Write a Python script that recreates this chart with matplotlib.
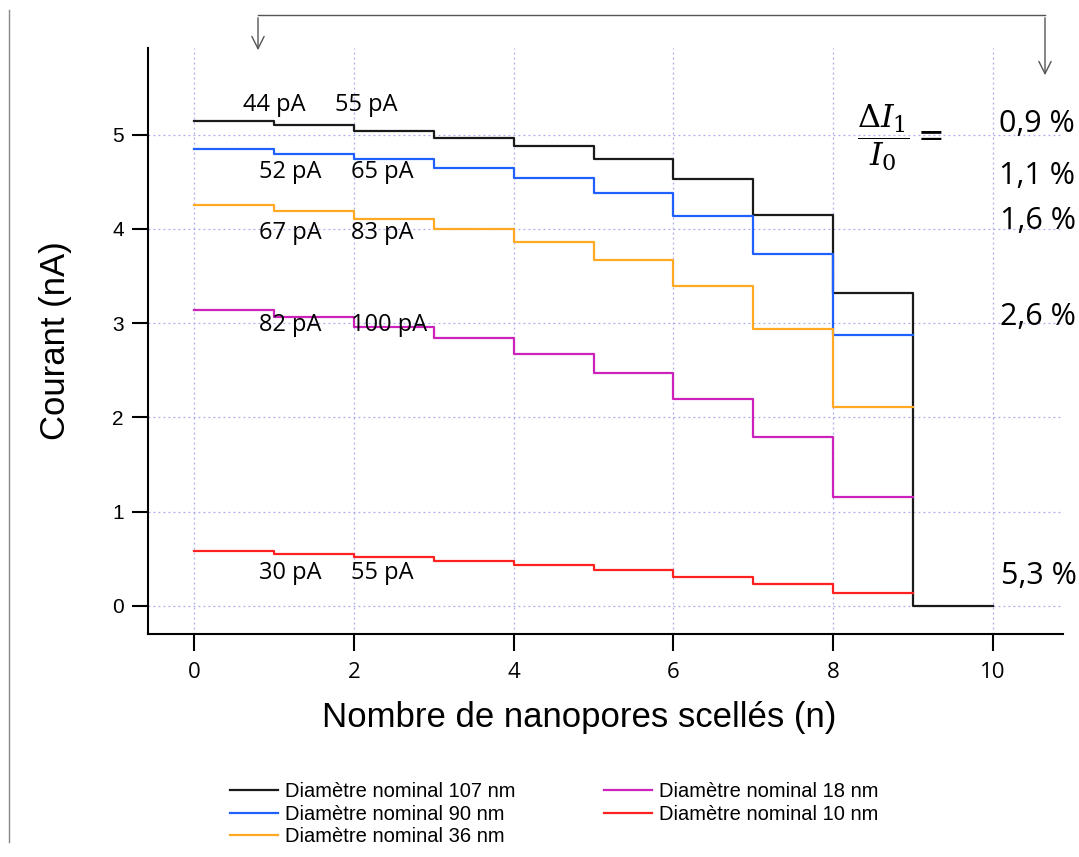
import matplotlib
import matplotlib.pyplot as plt
import numpy as np

matplotlib.use("Agg")

# Courant (nA) sur chaque palier n -> n+1
n_black = np.arange(0, 11)
i_107 = [5.14, 5.10, 5.04, 4.97, 4.88, 4.74, 4.53, 4.15, 3.32, 0.0, 0.0]
n_other = np.arange(0, 10)
i_90 = [4.85, 4.80, 4.74, 4.65, 4.54, 4.38, 4.14, 3.73, 2.87, 2.87]
i_36 = [4.25, 4.19, 4.11, 4.00, 3.86, 3.67, 3.39, 2.94, 2.11, 2.11]
i_18 = [3.14, 3.06, 2.96, 2.84, 2.67, 2.47, 2.19, 1.79, 1.15, 1.15]
i_10 = [0.58, 0.55, 0.515, 0.475, 0.43, 0.375, 0.31, 0.23, 0.13, 0.13]

labels = ["Diamètre nominal 107 nm", "Diamètre nominal 90 nm",
          "Diamètre nominal 36 nm", "Diamètre nominal 18 nm",
          "Diamètre nominal 10 nm"]
colors = ["#1a1a1a", "#2060ff", "#ffaa22", "#cc22bb", "#ff2020"]

# annotations des sauts (pA) et ΔI1/I0
steps_pa = [("44 pA", "55 pA"), ("52 pA", "65 pA"), ("67 pA", "83 pA"),
            ("82 pA", "100 pA"), ("30 pA", "55 pA")]
steps_x = [(1.0, 2.16), (1.2, 2.36), (1.2, 2.36), (1.2, 2.44), (1.2, 2.36)]
steps_y = [5.31, 4.60, 3.96, 2.98, 0.35]
ratios = ["0,9 %", "1,1 %", "1,6 %", "2,6 %", "5,3 %"]
ratios_x = [10.55, 10.55, 10.57, 10.57, 10.58]
ratios_y = [5.11, 4.56, 4.08, 3.06, 0.32]

fig = plt.figure(figsize=(10.79, 8.57), dpi=100)
ax = fig.add_axes([148 / 1079, 1 - 634 / 857, (1063 - 148) / 1079, (634 - 48) / 857])

series = [(n_black, i_107), (n_other, i_90), (n_other, i_36), (n_other, i_18), (n_other, i_10)]
for (x, y), lab, c in zip(series, labels, colors):
    ax.step(x, y, where="post", color=c, lw=1.6, label=lab)

ax.set_xlim(-0.58, 10.88)
ax.set_ylim(-0.30, 5.92)
ax.set_xticks(range(0, 11, 2))
ax.set_yticks(range(0, 6))
ax.grid(True, color="#aaaaee", ls=(0, (1.5, 2.5)), lw=0.9)
ax.set_axisbelow(True)
for s in ["top", "right"]:
    ax.spines[s].set_visible(False)
ax.spines["left"].set_linewidth(1.5)
ax.spines["bottom"].set_linewidth(1.5)
ax.tick_params(axis="y", direction="out", length=11.5, width=1.5, pad=6,
               labelsize=15)
ax.tick_params(axis="x", direction="out", length=12, width=1.5, pad=8,
               labelsize=16)
for t in ax.get_yticklabels():
    t.set_fontfamily("Liberation Sans")
for t in ax.get_xticklabels():
    t.set_fontfamily("Open Sans")

ax.set_ylabel("Courant (nA)", fontsize=25, family="Liberation Sans")
ax.yaxis.set_label_coords((56 - 148) / 915, 0.5)
ax.set_xlabel("Nombre de nanopores scellés (n)", fontsize=25, family="Liberation Sans")
ax.xaxis.set_label_coords((579 - 148) / 915, -(718 - 634) / 586)
ax.xaxis.label.set_va("center")
ax.yaxis.label.set_va("center")

for (a, b), (xa, xb), yy in zip(steps_pa, steps_x, steps_y):
    ax.text(xa, yy, a, ha="center", va="center", fontsize=17, family="Open Sans")
    ax.text(xb, yy, b, ha="center", va="center", fontsize=17, family="Open Sans")

for r, xx, yy in zip(ratios, ratios_x, ratios_y):
    ax.text(xx, yy, r, ha="center", va="center", fontsize=22, family="Open Sans")

ax.text(8.30, 4.97, r"$\dfrac{\Delta I_1}{I_0} =$", fontsize=23, ha="left", va="center",
        math_fontfamily="dejavuserif", clip_on=False)

# flèche de renvoi en haut
arr = dict(arrowstyle="->", color="#555555", lw=1.0, mutation_scale=22)
fig.add_artist(matplotlib.lines.Line2D([258 / 1079, 1045 / 1079], [1 - 15 / 857, 1 - 15 / 857],
                                       color="#555555", lw=1.0))
fig.add_artist(matplotlib.patches.FancyArrowPatch((258 / 1079, 1 - 15 / 857), (258 / 1079, 1 - 53 / 857),
                                                  transform=fig.transFigure, **arr))
fig.add_artist(matplotlib.patches.FancyArrowPatch((1045 / 1079, 1 - 15 / 857), (1045 / 1079, 1 - 78 / 857),
                                                  transform=fig.transFigure, **arr))
# trait vertical à gauche
fig.add_artist(matplotlib.lines.Line2D([9 / 1079, 9 / 1079], [1 - 10 / 857, 1 - 842 / 857],
                                       color="#888888", lw=1.0))

fig.legend(loc="upper left", bbox_to_anchor=(222 / 1079, 1 - 774 / 857), ncol=2,
           frameon=False, prop={"family": "Liberation Sans", "size": 14.5},
           handlelength=2.4, handletextpad=0.35, columnspacing=4.35,
           labelspacing=0.18, borderaxespad=0)

fig.savefig("out.png", dpi=100)
